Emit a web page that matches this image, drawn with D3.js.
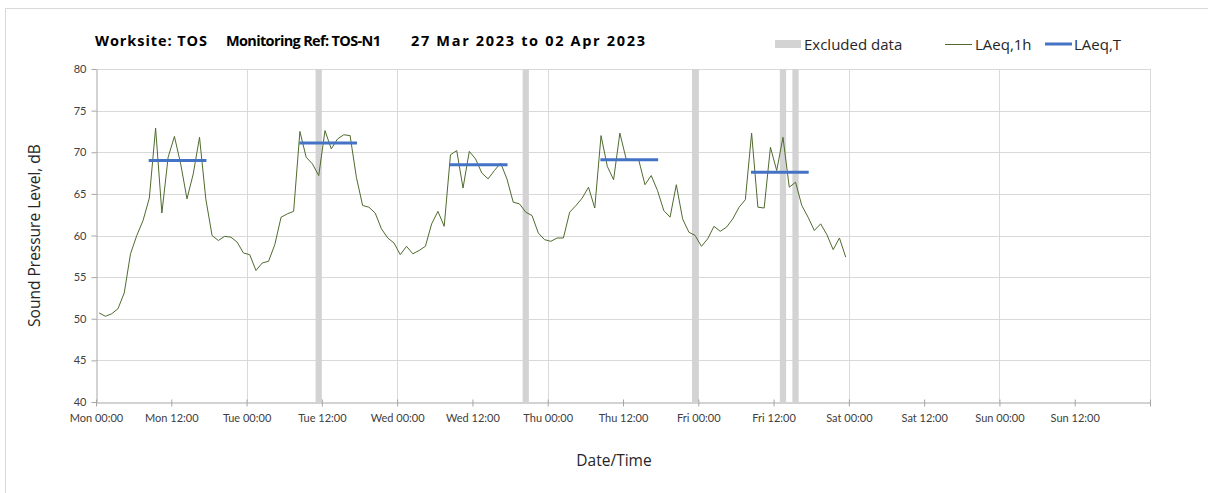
<!DOCTYPE html>
<html>
<head>
<meta charset="utf-8">
<script src="https://cdn.jsdelivr.net/npm/d3@7"></script>
<style>
  body { margin: 0; background: #fff; }
  text { font-family: Lato, "Open Sans", sans-serif; }
  text.lbl, .lbl text { font-family: "Open Sans", Lato, sans-serif; }
</style>
</head>
<body>
<script>
var width = 1208,
    height = 493;

// hourly LAeq,1h from Mon 27 Mar 00:00 (one value per hour, plotted mid-hour)
var laeq1h = [
  50.7, 50.3, 50.6, 51.2, 53.1, 57.8, 60.0, 61.8, 64.5, 72.9, 62.7, 69.4,
  71.9, 68.6, 64.4, 67.4, 71.8, 64.4, 60.0, 59.4, 59.9, 59.8, 59.2, 57.9,
  57.7, 55.8, 56.7, 56.9, 58.9, 62.2, 62.6, 62.9, 72.5, 69.4, 68.6, 67.2,
  72.6, 70.4, 71.6, 72.1, 72.0, 67.0, 63.6, 63.4, 62.7, 60.8, 59.7, 59.1,
  57.7, 58.7, 57.8, 58.2, 58.7, 61.4, 62.9, 61.1, 69.7, 70.2, 65.7, 70.1,
  69.2, 67.5, 66.8, 67.8, 68.7, 66.8, 64.0, 63.8, 62.8, 62.4, 60.3, 59.5,
  59.3, 59.7, 59.7, 62.8, 63.6, 64.5, 65.8, 63.3, 72.0, 68.3, 66.7, 72.3,
  69.2, 69.1, 69.1, 66.1, 67.2, 65.4, 63.0, 62.2, 66.1, 62.0, 60.4, 60.0,
  58.7, 59.6, 61.1, 60.5, 61.0, 62.0, 63.4, 64.3, 72.3, 63.4, 63.3, 70.6,
  67.8, 71.8, 65.8, 66.4, 63.6, 62.2, 60.6, 61.4, 60.1, 58.3, 59.7, 57.4
];

// daytime LAeq,T per day (Mon..Fri), period in hours of the day
var laeqTDays = [0, 1, 2, 3, 4];
var laeqT = [69.0, 71.1, 68.5, 69.1, 67.6];
var periodStart = 8.4, periodEnd = 17.6;

// excluded hours (hours from Mon 00:00)
var excludedHours = [35, 68, 95, 109, 111];

var xTickLabels = ['Mon 00:00', 'Mon 12:00', 'Tue 00:00', 'Tue 12:00', 'Wed 00:00', 'Wed 12:00',
  'Thu 00:00', 'Thu 12:00', 'Fri 00:00', 'Fri 12:00', 'Sat 00:00', 'Sat 12:00', 'Sun 00:00', 'Sun 12:00'];
var yTicks = [40, 45, 50, 55, 60, 65, 70, 75, 80];

var svg = d3.select('body').append('svg')
    .attr('width', width)
    .attr('height', height);

// outer frame
svg.append('rect')
  .attr('x', 5.5).attr('y', 8.5)
  .attr('width', 1220).attr('height', 500)
  .attr('fill', 'none')
  .attr('stroke', '#d9d9d9');

var x = d3.scaleLinear().domain([0, 168]).range([96, 1150]),
    y = d3.scaleLinear().domain([40, 80]).range([402, 69]);

var plot = svg.append('g');

// horizontal grid
plot.selectAll('.hgrid')
  .data(yTicks.filter(function(d) { return d > 40; }))
  .enter().append('line')
  .attr('x1', x(0)).attr('x2', x(168))
  .attr('y1', function(d) { return Math.round(y(d)) + 0.5; })
  .attr('y2', function(d) { return Math.round(y(d)) + 0.5; })
  .attr('stroke', '#d9d9d9');

// vertical grid at midnights
plot.selectAll('.vgrid')
  .data(d3.range(24, 169, 24))
  .enter().append('line')
  .attr('x1', function(d) { return Math.round(x(d)) + 0.5; })
  .attr('x2', function(d) { return Math.round(x(d)) + 0.5; })
  .attr('y1', y(80)).attr('y2', y(40))
  .attr('stroke', '#d9d9d9');

// excluded data bands
plot.selectAll('.excl')
  .data(excludedHours)
  .enter().append('rect')
  .attr('x', function(d) { return x(d); })
  .attr('width', function(d) { return x(d + 1) - x(d); })
  .attr('y', y(80))
  .attr('height', y(40) - y(80))
  .attr('fill', '#d3d3d3');

// axes
var xAxis = d3.axisBottom(x)
  .tickValues(d3.range(0, 168 + 1, 12))
  .tickSizeInner(4)
  .tickSizeOuter(0)
  .tickFormat(function(d, i) { return xTickLabels[i] || ''; });

var gx = svg.append('g')
  .attr('transform', 'translate(0,' + (Math.round(y(40)) + 0.5) + ')')
  .call(xAxis);
gx.select('.domain').attr('stroke', '#a6a6a6');
gx.selectAll('.tick line').attr('stroke', '#a6a6a6').attr('y1', -3).attr('y2', 4);
gx.selectAll('.tick text')
  .attr('y', 12)
  .attr('fill', '#404040')
  .style('font-size', '11px');

var gy = svg.append('g')
  .attr('transform', 'translate(' + (Math.round(x(0)) + 0.5) + ',0)')
  .call(d3.axisLeft(y).tickValues(yTicks).tickSizeInner(5).tickSizeOuter(0));
gy.select('.domain').attr('stroke', '#a6a6a6');
gy.selectAll('.tick line').attr('stroke', '#a6a6a6');
gy.selectAll('.tick text')
  .attr('x', -10)
  .attr('fill', '#404040')
  .style('font-size', '11px');

// LAeq,1h line
var line = d3.line()
  .x(function(d, i) { return x(i + 0.5); })
  .y(function(d) { return y(d); });

plot.append('path')
  .datum(laeq1h)
  .attr('d', line)
  .attr('fill', 'none')
  .attr('stroke', '#4f6b2f')
  .attr('stroke-width', 1);

// LAeq,T lines
plot.selectAll('.laeqT')
  .data(laeqT)
  .enter().append('line')
  .attr('x1', function(d, i) { return x(laeqTDays[i] * 24 + periodStart); })
  .attr('x2', function(d, i) { return x(laeqTDays[i] * 24 + periodEnd); })
  .attr('y1', function(d) { return y(d); })
  .attr('y2', function(d) { return y(d); })
  .attr('stroke', '#4472c4')
  .attr('stroke-width', 3);

// title, stretched to the reference widths
var title = svg.append('g').attr('class', 'lbl')
  .style('font-weight', 'bold').style('font-size', '14.5px').attr('fill', '#000');
title.append('text').attr('x', 95).attr('y', 46).attr('textLength', 112).text('Worksite: TOS');
title.append('text').attr('x', 226).attr('y', 46).attr('textLength', 155).text('Monitoring Ref: TOS-N1');
title.append('text').attr('x', 411).attr('y', 46).attr('textLength', 234).text('27 Mar 2023 to 02 Apr 2023');

// legend
var legend = svg.append('g').attr('class', 'lbl').style('font-size', '15px').attr('fill', '#262626');
legend.append('rect').attr('x', 775).attr('y', 40).attr('width', 26).attr('height', 8).attr('fill', '#d3d3d3');
legend.append('text').attr('x', 804).attr('y', 50).text('Excluded data');
legend.append('line').attr('x1', 945).attr('x2', 972).attr('y1', 44.5).attr('y2', 44.5)
  .attr('stroke', '#4f6b2f').attr('stroke-width', 1);
legend.append('text').attr('x', 975).attr('y', 50).text('LAeq,1h');
legend.append('line').attr('x1', 1045).attr('x2', 1072).attr('y1', 44).attr('y2', 44)
  .attr('stroke', '#4472c4').attr('stroke-width', 3);
legend.append('text').attr('x', 1074).attr('y', 50).text('LAeq,T');

// axis titles
svg.append('text')
  .attr('class', 'lbl')
  .attr('transform', 'translate(40,' + ((y(40) + y(80)) / 2) + ') rotate(-90)')
  .attr('text-anchor', 'middle')
  .attr('fill', '#262626')
  .style('font-size', '15.5px')
  .text('Sound Pressure Level, dB');

svg.append('text')
  .attr('class', 'lbl')
  .attr('x', 614).attr('y', 466)
  .attr('text-anchor', 'middle')
  .attr('fill', '#262626')
  .style('font-size', '15.5px')
  .text('Date/Time');
</script>
</body>
</html>
